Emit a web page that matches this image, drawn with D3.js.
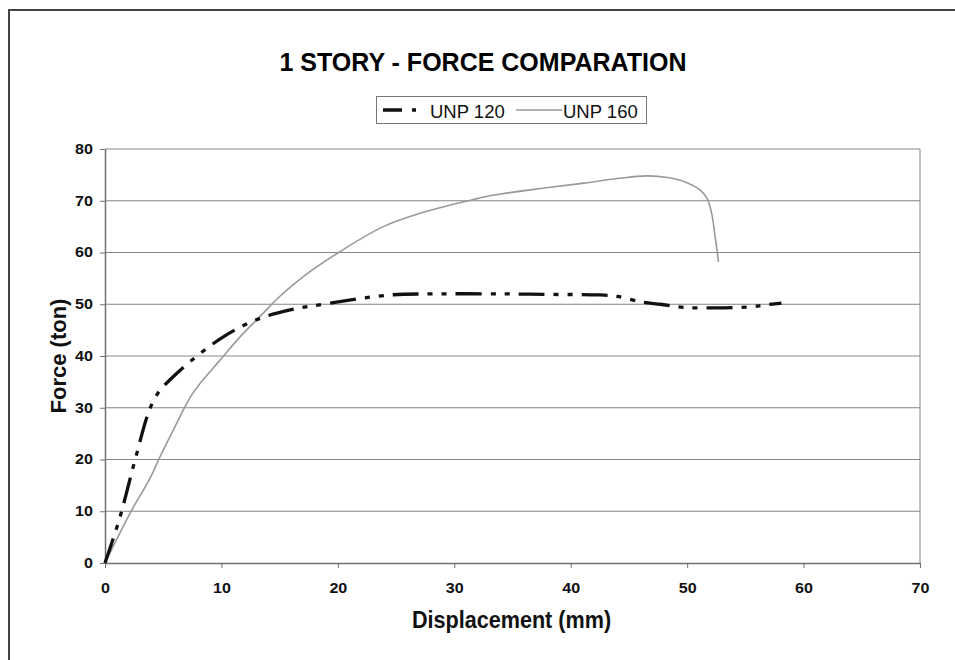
<!DOCTYPE html>
<html><head><meta charset="utf-8">
<script src="https://cdn.jsdelivr.net/npm/d3@7"></script>
<style>body{margin:0;background:#fff;overflow:hidden}svg{display:block}text{font-family:Arial,"Liberation Sans",sans-serif}</style>
</head><body><svg id="c" width="955" height="660"></svg>
<script>
const title = "1 STORY - FORCE COMPARATION";
const seriesNames = ["UNP 120", "UNP 160"];
const xLabel = "Displacement (mm)";
const yLabel = "Force (ton)";
const xTicks = [0,10,20,30,40,50,60,70];
const yTicks = [0,10,20,30,40,50,60,70,80];
const unp120X = [0,1.29,2.58,3.87,4.72,5.58,7.3,10.16,13.0,15.9,19.3,24.5,28,34.2,38,42.5,44,46.2,47.7,49.7,52.5,55.4,56.8,58.1];
const unp120Y = [0,8.9,19.9,29.9,33.4,35.4,38.9,43.7,47.0,48.9,50.2,51.8,52.0,52.0,51.9,51.8,51.5,50.4,50.0,49.4,49.3,49.5,49.9,50.2];
const unp160X = [0,2.15,3.87,4.72,5.87,6.87,7.45,8.16,9.88,11.6,13.3,15.0,17.0,20.2,23.9,27.1,31.4,33.4,37.9,41.1,44.0,46.5,48.3,50.0,51.1,51.7,52.1,52.4,52.7];
const unp160Y = [0,9.6,16.4,20.5,25.7,30.2,32.5,34.7,39.2,43.7,47.6,51.5,55.3,60.2,65.0,67.6,70.1,71.1,72.5,73.4,74.3,74.8,74.5,73.5,72.1,70.5,67.6,63.1,58.2];

const svg = d3.select("#c");
// outer frame (only top and left edges fall inside the picture)
svg.append("path").attr("d","M9,700 V10 H960")
  .attr("fill","none").attr("stroke","#444").attr("stroke-width",2);

const L=105, R=920, T=149, B=563;
const x = d3.scaleLinear().domain([0,70]).range([L,R]);
const y = d3.scaleLinear().domain([0,80]).range([B,T]);

// gridlines
svg.append("g").selectAll("line").data(yTicks.filter(d=>d>0)).join("line")
  .attr("x1",L).attr("x2",R).attr("y1",d=>y(d)).attr("y2",d=>y(d))
  .attr("stroke","#858585").attr("stroke-width",1);
svg.append("line").attr("x1",R).attr("x2",R).attr("y1",T).attr("y2",B).attr("stroke","#858585");

const tickFont = 14, stretch = 1.15;
const xAxis = svg.append("g").attr("transform",`translate(0,${B})`)
  .call(d3.axisBottom(x).tickValues(xTicks).tickSize(5).tickSizeOuter(0));
const yAxis = svg.append("g").attr("transform",`translate(${L},0)`)
  .call(d3.axisLeft(y).tickValues(yTicks).tickSize(5).tickSizeOuter(0));
[xAxis,yAxis].forEach(a=>{
  a.select(".domain").attr("stroke","#707070").attr("stroke-width",1.5);
  a.selectAll(".tick line").attr("stroke","#707070");
  a.selectAll(".tick text").attr("font-size",tickFont).attr("font-weight","bold").attr("fill","#111")
   .attr("font-family","Arial,'Liberation Sans',sans-serif")
   .attr("transform",`scale(${stretch},1)`);
});
xAxis.selectAll(".tick text").attr("y",20);
yAxis.selectAll(".tick text").attr("x",-12/stretch);

const lineGen = d3.line().x(d=>x(d[0])).y(d=>y(d[1])).curve(d3.curveCatmullRom);
const d160 = unp160X.map((v,i)=>[v,unp160Y[i]]);
const d120 = unp120X.map((v,i)=>[v,unp120Y[i]]);
svg.append("path").datum(d160).attr("d",lineGen)
  .attr("fill","none").attr("stroke","#999").attr("stroke-width",1.6);
svg.append("path").datum(d120).attr("d",lineGen)
  .attr("fill","none").attr("stroke","#111").attr("stroke-width",3.3)
  .attr("stroke-dasharray","26,9,5,9,5,9");

// title
svg.append("text").attr("x",483).attr("y",71).attr("text-anchor","middle")
  .attr("font-size",25).attr("font-weight","bold").attr("fill","#000").text(title);

// legend
const lg = svg.append("g");
lg.append("rect").attr("x",376.5).attr("y",96.5).attr("width",270).attr("height",27)
  .attr("fill","#fff").attr("stroke","#777");
lg.append("line").attr("x1",383).attr("x2",416).attr("y1",110).attr("y2",110)
  .attr("stroke","#111").attr("stroke-width",3.3).attr("stroke-dasharray","19,10,5,30");
lg.append("text").attr("x",430).attr("y",117.5).attr("font-size",18.5).attr("fill","#111").text(seriesNames[0]);
lg.append("line").attr("x1",516).attr("x2",562).attr("y1",110).attr("y2",110)
  .attr("stroke","#999").attr("stroke-width",1.6);
lg.append("text").attr("x",563).attr("y",117.5).attr("font-size",18.5).attr("fill","#111").text(seriesNames[1]);

// axis titles
svg.append("text").attr("transform","translate(511.5,628) scale(0.9,1)").attr("text-anchor","middle")
  .attr("font-size",24).attr("font-weight","bold").attr("fill","#111").text(xLabel);
svg.append("text").attr("transform","translate(66,356) rotate(-90)").attr("text-anchor","middle")
  .attr("font-size",22).attr("font-weight","bold").attr("fill","#111").text(yLabel);
</script></body></html>
